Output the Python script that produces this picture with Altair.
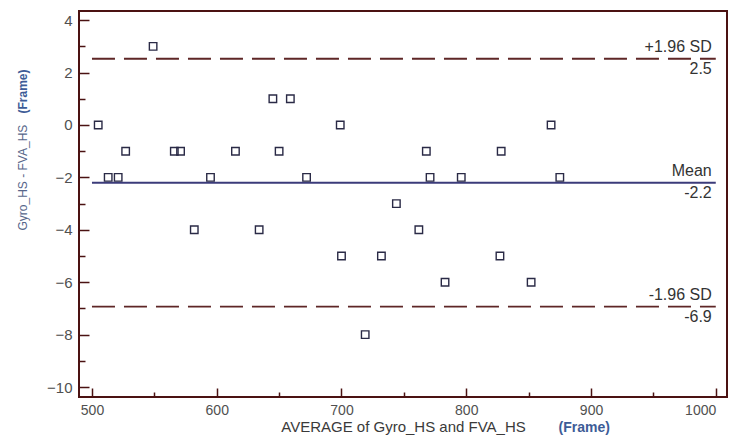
import altair as alt
import numpy as np
import pandas as pd

# ---- data (Bland-Altman plot) ----
avg_values = [549, 645, 659, 505, 699, 868, 527, 566, 571, 615, 650, 768, 828,
              513, 521, 595, 672, 771, 796, 875, 744, 582, 634, 762, 700, 732,
              827, 783, 852, 719]
diff_values = [3, 1, 1, 0, 0, 0, -1, -1, -1, -1, -1, -1, -1,
               -2, -2, -2, -2, -2, -2, -2, -3, -4, -4, -4, -5, -5,
               -5, -6, -6, -8]

line_names = ["+1.96 SD", "Mean", "-1.96 SD"]
line_start = [500, 500, 500]
line_end = [1000, 1000, 1000]

x_major = [500, 600, 700, 800, 900, 1000]
x_minor = [550, 650, 750, 850, 950]
y_major = [-10, -8, -6, -4, -2, 0, 2, 4]
y_minor = [-9, -7, -5, -3, -1, 1, 3]

x_domain = [489.6, 1009]
y_domain = [-10.38, 4.35]

# ---- derived limits of agreement ----
mean_d = float(np.mean(diff_values))
sd_d = float(np.std(diff_values, ddof=1))
line_values = [mean_d + 1.96 * sd_d, mean_d, mean_d - 1.96 * sd_d]
line_value_labels = [f"{v:.1f}" for v in line_values]

pts = pd.DataFrame({"avg": avg_values, "diff": diff_values})
lines = pd.DataFrame({
    "name": line_names,
    "value": line_values,
    "label": line_value_labels,
    "x0": line_start,
    "x1": line_end,
})

FONT = "Liberation Sans"
FRAME = "#4b1212"
xscale = alt.Scale(domain=x_domain, nice=False, zero=False)
yscale = alt.Scale(domain=y_domain, nice=False, zero=False)

# points layer: carries labelled axes
points = alt.Chart(pts).mark_point(
    shape="square", filled=False, size=56, strokeWidth=1.4, color="#2a2a46", opacity=1
).encode(
    x=alt.X("avg:Q", scale=xscale, axis=alt.Axis(
        orient="bottom", values=x_major, ticks=False, tickSize=0, domain=False,
        grid=False, labelPadding=6, labelFont=FONT, labelFontSize=14,
        labelColor="#505050", format="d", labelFlush=12,
        title="AVERAGE of Gyro_HS and FVA_HS", titleFont=FONT, titleFontSize=15,
        titleFontWeight="normal", titleColor="#3a3a3a", titleY=34,
        titleBaseline="alphabetic")),
    y=alt.Y("diff:Q", scale=yscale, axis=alt.Axis(
        orient="left", values=y_major, ticks=False, tickSize=0, domain=False,
        grid=False, labelPadding=7, labelFont=FONT, labelFontSize=15,
        labelColor="#505050", format="d",
        title="Gyro_HS - FVA_HS", titleFont=FONT, titleFontSize=12,
        titleFontWeight="normal", titleColor="#56668a", titleAngle=270,
        titleAlign="left", titleBaseline="middle", titleX=-57, titleY=219)),
)

# mean line: carries major inward ticks + "(Frame)" titles
mean_rule = alt.Chart(lines).transform_filter(alt.datum.name == "Mean").mark_rule(
    color="#3b3b7a", strokeWidth=2
).encode(
    x=alt.X("x0:Q", scale=xscale, axis=alt.Axis(
        orient="bottom", values=x_major, labels=False, ticks=True, tickSize=9,
        offset=-9, domain=False, grid=False, tickColor=FRAME, tickWidth=1.5,
        title="(Frame)", titleFont=FONT, titleFontSize=14, titleFontWeight="bold",
        titleColor="#3d5c97", titleAlign="left", titleBaseline="alphabetic",
        titleX=479, titleY=43)),
    x2="x1:Q",
    y=alt.Y("value:Q", scale=yscale, axis=alt.Axis(
        orient="left", values=y_major, labels=False, ticks=True, tickSize=10,
        offset=-10, domain=False, grid=False, tickColor=FRAME, tickWidth=1.5,
        title="(Frame)", titleFont=FONT, titleFontSize=12, titleFontWeight="bold",
        titleColor="#3d5c97", titleAngle=270, titleAlign="left",
        titleBaseline="middle", titleX=-67, titleY=102)),
)

# SD lines: carry minor inward ticks
sd_rules = alt.Chart(lines).transform_filter(alt.datum.name != "Mean").mark_rule(
    color="#5e2626", strokeWidth=1.8, strokeDash=[23, 9]
).encode(
    x=alt.X("x0:Q", scale=xscale, axis=alt.Axis(
        orient="bottom", values=x_minor, labels=False, ticks=True, tickSize=5,
        offset=-5, domain=False, grid=False, tickColor=FRAME, tickWidth=1.5,
        title=None)),
    x2="x1:Q",
    y=alt.Y("value:Q", scale=yscale, axis=alt.Axis(
        orient="left", values=y_minor, labels=False, ticks=True, tickSize=6,
        offset=-6, domain=False, grid=False, tickColor=FRAME, tickWidth=1.5,
        title=None)),
)

name_text = alt.Chart(lines).mark_text(
    align="right", baseline="alphabetic", dx=-4, dy=-7, font=FONT, fontSize=16,
    color="#333333"
).encode(
    x=alt.X("x1:Q", scale=xscale, axis=None),
    y=alt.Y("value:Q", scale=yscale, axis=None),
    text="name:N",
)

value_text = alt.Chart(lines).mark_text(
    align="right", baseline="alphabetic", dx=-4, dy=15, font=FONT, fontSize=16,
    color="#333333"
).encode(
    x=alt.X("x1:Q", scale=xscale, axis=None),
    y=alt.Y("value:Q", scale=yscale, axis=None),
    text="label:N",
)

chart = alt.layer(
    sd_rules, mean_rule, points, name_text, value_text
).resolve_axis(
    x="independent", y="independent"
).properties(
    width=648, height=386,
    autosize=alt.AutoSizeParams(type="none"),
    padding={"left": 71, "top": 3, "right": 1, "bottom": 38},
    background="white",
).configure_view(
    stroke=FRAME, strokeWidth=2
)

chart.save("out.html", embed_options={"renderer": "svg", "actions": False})
